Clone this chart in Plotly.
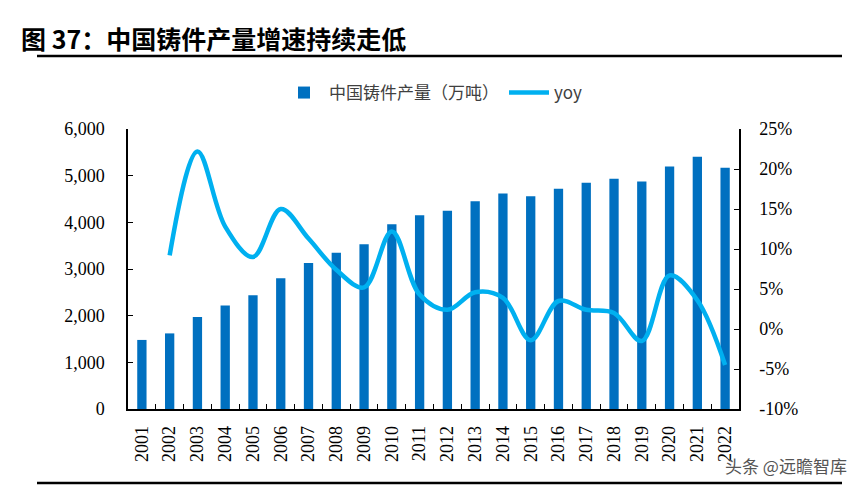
import plotly.graph_objects as go

years = [str(y) for y in range(2001, 2023)]
output = [1480, 1620, 1970, 2220, 2440, 2800, 3130, 3350, 3530, 3960, 4150,
          4250, 4450, 4620, 4560, 4720, 4850, 4935, 4875, 5195, 5405, 5170]
yoy = [None, 9.2, 22.2, 12.8, 9.0, 15.0, 11.3, 7.4, 5.2, 12.2, 4.3,
       2.4, 4.6, 3.9, -1.4, 3.5, 2.4, 2.0, -1.5, 6.7, 3.6, -4.5]
left_ticks = [0, 1000, 2000, 3000, 4000, 5000, 6000]
left_text = ["0", "1,000", "2,000", "3,000", "4,000", "5,000", "6,000"]
right_ticks = [-10, -5, 0, 5, 10, 15, 20, 25]
right_text = ["-10%", "-5%", "0%", "5%", "10%", "15%", "20%", "25%"]

W, H = 864, 488
L, R, T, B = 128, 739, 129, 409

def px(x):
    return (x - L) / (R - L)

def py(y):
    return (B - y) / (B - T)

serif = "Liberation Serif, Times New Roman, serif"
cjk = "Noto Sans CJK SC, sans-serif"

fig = go.Figure()
fig.add_trace(go.Bar(
    x=years, y=output, name="中国铸件产量（万吨）",
    marker=dict(color="#0070C0", line=dict(width=0)),
    yaxis="y",
))
fig.add_trace(go.Scatter(
    x=years, y=yoy, name="yoy", mode="lines",
    line=dict(color="#00B0F0", width=4.5, shape="spline", smoothing=1.0),
    yaxis="y2", connectgaps=False,
))

fig.update_layout(
    width=W, height=H,
    margin=dict(l=L, r=W - R, t=T, b=H - B, pad=0),
    paper_bgcolor="white", plot_bgcolor="white",
    bargap=0.665,
    showlegend=True,
    legend=dict(orientation="h", x=0.5, xanchor="center", y=py(93), yanchor="middle",
                font=dict(family=cjk, size=17, color="#404040"),
                itemwidth=40, traceorder="normal", bgcolor="rgba(0,0,0,0)"),
    xaxis=dict(
        type="category", tickangle=-90,
        tickfont=dict(family=serif, size=18, color="black"),
        showline=True, linecolor="black", linewidth=1.5,
        ticks="inside", ticklen=5, tickcolor="black", tickwidth=1,
        tickson="boundaries", showgrid=False, zeroline=False,
        range=[-0.5, 21.5], ticklabelstandoff=8,
    ),
    yaxis=dict(
        range=[0, 6000], tickvals=left_ticks, ticktext=left_text,
        tickfont=dict(family=serif, size=18, color="black"),
        showline=True, linecolor="black", linewidth=1.5,
        ticks="inside", ticklen=5, tickcolor="black",
        showgrid=False, zeroline=False, ticklabelstandoff=18,
    ),
    yaxis2=dict(
        range=[-10, 25], tickvals=right_ticks, ticktext=right_text,
        overlaying="y", side="right",
        tickfont=dict(family=serif, size=18, color="black"),
        showline=True, linecolor="black", linewidth=1.5,
        ticks="inside", ticklen=5, tickcolor="black",
        showgrid=False, zeroline=False, ticklabelstandoff=15,
    ),
    shapes=[
        dict(type="line", xref="paper", yref="paper",
             x0=px(37), x1=px(842), y0=py(56), y1=py(56),
             line=dict(color="black", width=2.5)),
        dict(type="line", xref="paper", yref="paper",
             x0=px(37), x1=px(842), y0=py(483), y1=py(483),
             line=dict(color="black", width=2.5)),
    ],
    annotations=[
        dict(text="<b>图 37：中国铸件产量增速持续走低</b>", xref="paper", yref="paper",
             x=px(19), y=py(38), xanchor="left", yanchor="middle", showarrow=False,
             font=dict(family=cjk, size=25, color="black")),
        dict(text="头条 @远瞻智库", xref="paper", yref="paper",
             x=px(849), y=py(465), xanchor="right", yanchor="middle", showarrow=False,
             font=dict(family=cjk, size=17, color="#555555")),
    ],
)

fig.write_html("out.html", config={"displayModeBar": False},
               post_script="document.body.style.margin='0';document.body.style.overflow='hidden';")
